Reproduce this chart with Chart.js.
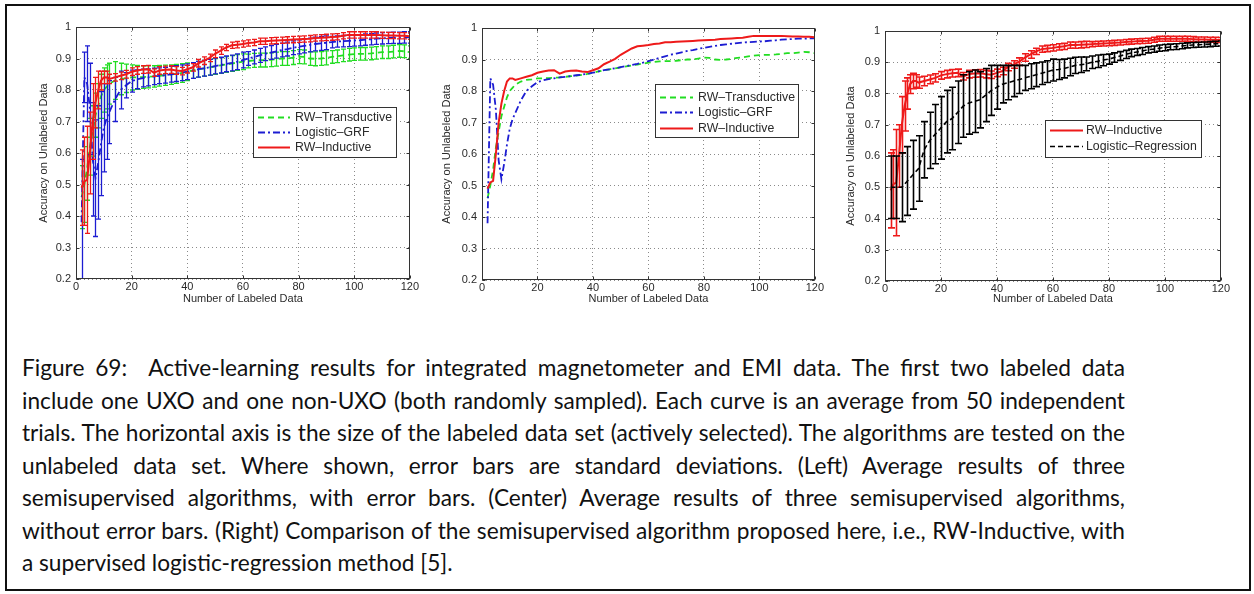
<!DOCTYPE html>
<html><head><meta charset="utf-8">
<script src="https://cdn.jsdelivr.net/npm/chart.js@4.4.1/dist/chart.umd.min.js"></script>
<style>
html,body{margin:0;padding:0;background:#fff;}
body{width:1254px;height:594px;position:relative;overflow:hidden;}
#frame{position:absolute;left:5px;top:4px;width:1246px;height:587px;border:2px solid #111;box-sizing:border-box;}
canvas{position:absolute;}
.cap{position:absolute;left:22px;width:1103px;font-family:Lato,"Open Sans",sans-serif;color:#111;line-height:1;text-align:justify;text-align-last:justify;}
.cap.last{text-align-last:left;}
</style></head>
<body>
<div id="frame"></div>
<canvas id="cL"></canvas>
<canvas id="cC"></canvas>
<canvas id="cR"></canvas>
<div id="caption"></div>
<script>
// ---------------- data ----------------
const X = [2,3,4,5,6,7,8,9,10,11,12,14,16,18,20,22,24,26,28,30,32,34,36,38,40,42,44,46,48,50,52,54,56,58,60,62,64,66,68,70,72,74,76,78,80,82,84,86,88,90,92,94,96,98,100,102,104,106,108,110,112,114,116,118,120];
const X_LR = [2,4,6,8,10,12,14,16,18,20,22,24,26,28,30,32,34,36,38,40,42,44,46,48,50,52,54,56,58,60,62,64,66,68,70,72,74,76,78,80,82,84,86,88,90,92,94,96,98,100,102,104,106,108,110,112,114,116,118,120];

const rwInductive = [
.49,.51,.515,.60,.70,.76,.80,.83,.84,.84,.835,
.84,.845,.85,.858,.862,.865,.866,.855,.862,.864,
.865,.862,.86,.866,.872,.885,.893,.902,.915,.925,
.935,.942,.944,.946,.949,.951,.955,.955,.956,.957,
.958,.959,.96,.961,.962,.963,.965,.966,.967,.968,
.969,.972,.975,.975,.975,.975,.975,.975,.974,.973,
.973,.972,.972,.971];
const rwTransductive = [
.46,.50,.55,.62,.67,.72,.75,.78,.80,.81,.82,
.83,.835,.837,.84,.84,.841,.842,.843,.845,.847,
.849,.851,.854,.858,.862,.866,.869,.872,.875,.878,
.881,.884,.887,.89,.892,.894,.895,.895,.896,.898,
.90,.90,.903,.906,.905,.90,.899,.90,.902,.905,
.907,.91,.912,.914,.915,.915,.916,.918,.92,.92,
.922,.924,.923,.92];
const logisticGRF = [
.38,.84,.82,.74,.58,.52,.57,.63,.68,.71,.73,
.77,.80,.815,.828,.834,.838,.84,.843,.845,.847,
.85,.852,.855,.858,.862,.866,.869,.872,.876,.879,
.883,.886,.89,.895,.90,.905,.91,.915,.919,.923,
.927,.93,.934,.937,.94,.943,.946,.948,.95,.952,
.954,.955,.956,.957,.958,.96,.961,.963,.964,.965,
.966,.966,.967,.967];
const rwTransductiveStd = [
.10,.12,.10,.09,.08,.07,.07,.07,.07,.07,.065,
.06,.05,.045,.04,.038,.036,.035,.034,.033,.032,
.031,.03,.03,.028,.025,.025,.025,.025,.025,.025,
.025,.025,.025,.025,.022,.022,.022,.022,.022,.022,
.022,.022,.022,.022,.022,.022,.022,.022,.022,.02,
.02,.02,.02,.02,.02,.02,.02,.02,.02,.02,
.02,.02,.02,.02];
const logisticGRFStd = [
.20,.08,.12,.145,.18,.185,.18,.165,.14,.13,.10,
.07,.06,.04,.035,.03,.028,.027,.026,.025,.025,
.025,.025,.025,.025,.025,.025,.025,.025,.025,.025,
.025,.025,.025,.025,.022,.022,.022,.022,.022,.022,
.022,.022,.022,.022,.022,.022,.022,.022,.022,.018,
.018,.018,.018,.018,.018,.018,.018,.018,.018,.018,
.018,.018,.018,.018];
const rwInductiveStdL = [
.12,.14,.17,.13,.12,.08,.06,.03,.02,.02,.015,
.012,.012,.012,.012,.012,.012,.012,.012,.012,.012,
.012,.012,.012,.012,.012,.012,.012,.012,.012,.012,
.01,.01,.01,.01,.01,.01,.01,.01,.01,.01,
.01,.01,.01,.01,.01,.01,.01,.01,.01,.01,
.01,.01,.01,.01,.01,.01,.01,.01,.01,.01,
.01,.01,.01,.01];
const rwInductiveStdR = [
.12,.11,.17,.10,.09,.08,.05,.03,.025,.02,.018,
.015,.014,.013,.012,.012,.012,.012,.012,.012,.012,
.012,.012,.012,.012,.012,.012,.012,.012,.012,.012,
.01,.01,.01,.01,.01,.01,.01,.01,.01,.01,
.008,.008,.008,.008,.008,.008,.008,.008,.008,.008,
.008,.008,.008,.008,.008,.008,.008,.008,.008,.008,
.008,.008,.008,.008];
const logisticRegression = [
.50,.50,.50,.52,.54,.56,.62,.65,.67,.69,
.71,.72,.74,.76,.77,.775,.78,.795,.81,.82,
.83,.835,.84,.845,.85,.855,.86,.865,.87,.875,
.877,.88,.885,.89,.892,.895,.90,.903,.907,.91,
.915,.92,.925,.93,.933,.936,.94,.942,.945,.947,
.949,.95,.952,.954,.955,.956,.957,.958,.959,.96];
const logisticRegressionStd = [
.10,.10,.11,.11,.11,.105,.09,.09,.095,.10,
.10,.10,.10,.10,.10,.10,.09,.085,.08,.07,
.06,.055,.05,.045,.04,.04,.038,.036,.035,.035,
.032,.03,.028,.026,.025,.022,.02,.02,.018,.016,
.015,.014,.013,.012,.011,.011,.01,.01,.01,.01,
.009,.009,.009,.008,.008,.008,.008,.008,.008,.008];

const X_TICK_LABELS = ['0','20','40','60','80','100','120'];
const Y_TICK_LABELS = ['0.2','0.3','0.4','0.5','0.6','0.7','0.8','0.9','1'];
const X_TITLE = 'Number of Labeled Data';
const Y_TITLE = 'Accuracy on Unlabeled Data';
const CAPTION = [
'Figure 69:\u00a0 Active-learning results for integrated magnetometer and EMI data. The first two labeled data',
'include one UXO and one non-UXO (both randomly sampled). Each curve is an average from 50 independent',
'trials. The horizontal axis is the size of the labeled data set (actively selected). The algorithms are tested on the',
'unlabeled data set. Where shown, error bars are standard deviations. (Left) Average results of three',
'semisupervised algorithms, with error bars. (Center) Average results of three semisupervised algorithms,',
'without error bars. (Right) Comparison of the semisupervised algorithm proposed here, i.e., RW-Inductive, with',
'a supervised logistic-regression method [5].'
];

// ---------------- styles ----------------
const GREEN = '#22dd22', BLUE = '#1c1cd2', RED = '#ee1a1a', BLACK = '#000000';
const TXT = '#2a2a2a';
const FONT = {family:'"Liberation Sans", Arial, sans-serif', size:11};

function pts(xs, ys){ return xs.map((x,i)=>({x:x, y:ys[i]})); }
function ds(label, xs, ys, color, dash, width, order, std){
  return {label, data:pts(xs,ys), borderColor:color, backgroundColor:color, borderDash:dash,
    borderWidth:width, pointRadius:0, tension:0, fill:false, order, std, clip:true};
}

const mlab = {
  id:'mlab',
  afterDatasetDraw(chart, args){
    const d = chart.data.datasets[args.index];
    if(!d.std) return;
    const ctx = chart.ctx, ys = chart.scales.y, a = chart.chartArea;
    const meta = chart.getDatasetMeta(args.index);
    const o = chart.options.plugins.mlab;
    ctx.save();
    ctx.beginPath(); ctx.rect(a.left, a.top, a.right-a.left, a.bottom-a.top); ctx.clip();
    ctx.strokeStyle = d.borderColor; ctx.lineWidth = o.barWidth; ctx.setLineDash([]);
    const cap = o.cap;
    d.data.forEach((p,i)=>{
      const px = Math.round(meta.data[i].x)+0.5;
      const y1 = ys.getPixelForValue(p.y + d.std[i]);
      const y2 = ys.getPixelForValue(p.y - d.std[i]);
      ctx.beginPath();
      ctx.moveTo(px,y1); ctx.lineTo(px,y2);
      ctx.moveTo(px-cap,y1); ctx.lineTo(px+cap,y1);
      ctx.moveTo(px-cap,y2); ctx.lineTo(px+cap,y2);
      ctx.stroke();
    });
    ctx.restore();
  },
  afterDatasetsDraw(chart){
    const ctx = chart.ctx, a = chart.chartArea, xs = chart.scales.x, ys = chart.scales.y;
    ctx.save();
    ctx.strokeStyle = '#333'; ctx.lineWidth = 1; ctx.setLineDash([]);
    const L = Math.round(a.left)+0.5, R = Math.round(a.right)-0.5, T = Math.round(a.top)+0.5, B = Math.round(a.bottom)-0.5;
    ctx.strokeRect(L, T, R-L, B-T);
    ctx.beginPath();
    xs.ticks.forEach(t=>{ const px = Math.round(xs.getPixelForValue(t.value))+0.5;
      ctx.moveTo(px,B); ctx.lineTo(px,B-3); ctx.moveTo(px,T); ctx.lineTo(px,T+3); });
    ys.ticks.forEach(t=>{ const py = Math.round(ys.getPixelForValue(t.value))+0.5;
      ctx.moveTo(L,py); ctx.lineTo(L+3,py); ctx.moveTo(R,py); ctx.lineTo(R-3,py); });
    ctx.stroke();
    ctx.restore();
  },
  afterDraw(chart){
    const o = chart.options.plugins.mlab, lg = o.legend, box = o.box, ctx = chart.ctx;
    const bx = lg.x0 - box.x, by = lg.y0 - box.y;
    ctx.save();
    ctx.fillStyle = '#fff'; ctx.fillRect(bx, by, lg.x1-lg.x0, lg.y1-lg.y0);
    ctx.strokeStyle = '#333'; ctx.lineWidth = 1; ctx.setLineDash([]);
    ctx.strokeRect(Math.round(bx)+0.5, Math.round(by)+0.5, lg.x1-lg.x0, lg.y1-lg.y0);
    ctx.font = '12.3px "Liberation Sans", Arial, sans-serif';
    ctx.textBaseline = 'middle'; ctx.fillStyle = TXT;
    chart.data.datasets.forEach((d,i)=>{
      const ry = lg.rows[i] - box.y + 0.5;
      ctx.strokeStyle = d.borderColor; ctx.lineWidth = d.borderWidth; ctx.setLineDash(d.borderDash||[]);
      ctx.beginPath(); ctx.moveTo(lg.lx0-box.x, ry); ctx.lineTo(lg.lx1-box.x, ry); ctx.stroke();
      ctx.fillText(d.label, lg.tx-box.x, ry+0.5);
    });
    ctx.restore();
  }
};

function makeChart(id, box, plot, datasets, legend, yTitlePad, cap, barWidth){
  const cv = document.getElementById(id);
  cv.width = box.w; cv.height = box.h;
  cv.style.left = box.x+'px'; cv.style.top = box.y+'px';
  const yW = plot.l - box.x, xH = box.y + box.h - plot.b;
  return new Chart(cv, {
    type:'line',
    data:{datasets},
    options:{
      responsive:false, animation:false, devicePixelRatio:1,
      layout:{padding:{left:0, top:plot.t-box.y, right:box.x+box.w-plot.r, bottom:0}},
      plugins:{legend:{display:false}, tooltip:{enabled:false}, mlab:{legend, box, cap, barWidth}},
      scales:{
        x:{type:'linear', min:0, max:120,
          ticks:{stepSize:20, callback:(v,i)=>X_TICK_LABELS[i], font:FONT, color:TXT, padding:1, maxRotation:0, autoSkip:false},
          grid:{color:'#8a8a8a', drawTicks:false, lineWidth:1},
          border:{display:false, dash:[1,3]},
          title:{display:true, text:X_TITLE, font:FONT, color:TXT, padding:{top:0,bottom:4}},
          afterFit:s=>{s.height = xH;}},
        y:{type:'linear', min:0.2, max:1,
          ticks:{stepSize:0.1, callback:(v,i)=>Y_TICK_LABELS[i], font:FONT, color:TXT, padding:5, autoSkip:false},
          grid:{color:'#8a8a8a', drawTicks:false, lineWidth:1},
          border:{display:false, dash:[1,3]},
          title:{display:true, text:Y_TITLE, font:FONT, color:TXT, padding:{top:yTitlePad,bottom:0}},
          afterFit:s=>{s.width = yW;}}
      }
    },
    plugins:[mlab]
  });
}

// Left chart
makeChart('cL', {x:18,y:6,w:402,h:304}, {l:76,r:411,t:27,b:279}, [
  ds('RW\u2013Transductive', X, rwTransductive, GREEN, [6,4], 1.8, 2, rwTransductiveStd),
  ds('Logistic\u2013GRF', X, logisticGRF, BLUE, [7,3,2,3], 1.8, 1, logisticGRFStd),
  ds('RW\u2013Inductive', X, rwInductive, RED, [], 2, 0, rwInductiveStdL)
], {x0:253,x1:396,y0:107,y1:157,lx0:258,lx1:290,tx:295,rows:[117,132,147]}, 19, 2.5, 1.3);

// Center chart
makeChart('cC', {x:420,y:6,w:405,h:304}, {l:482,r:817,t:28,b:280}, [
  ds('RW\u2013Transductive', X, rwTransductive, GREEN, [6,4], 1.8, 2, null),
  ds('Logistic\u2013GRF', X, logisticGRF, BLUE, [7,3,2,3], 1.8, 1, null),
  ds('RW\u2013Inductive', X, rwInductive, RED, [], 2, 0, null)
], {x0:655,x1:798,y0:84,y1:137,lx0:660,lx1:693,tx:698,rows:[97,112,128]}, 20, 2.5, 1);

// Right chart
makeChart('cR', {x:830,y:6,w:401,h:304}, {l:885,r:1221,t:31,b:281}, [
  ds('RW\u2013Inductive', X, rwInductive, RED, [], 2, 1, rwInductiveStdR),
  ds('Logistic\u2013Regression', X_LR, logisticRegression, BLACK, [5,3], 1.6, 0, logisticRegressionStd)
], {x0:1045,x1:1201,y0:120,y1:157,lx0:1050,lx1:1083,tx:1086,rows:[130,146]}, 14, 3.5, 1.6);

// Caption
(function(){
  const c = document.createElement('canvas').getContext('2d');
  const fam = 'Lato, "Open Sans", sans-serif';
  const w = (t,s)=>{ c.font = s+'px '+fam; return c.measureText(t).width; };
  let s = 20 * 1096 / w(CAPTION[5], 20);
  for(let i=0;i<6;i++){ const nw = w(CAPTION[i], s); if(nw > 1100) s *= 1100/nw; }
  const host = document.getElementById('caption');
  CAPTION.forEach((t,i)=>{
    const d = document.createElement('div');
    d.className = 'cap' + (i===CAPTION.length-1 ? ' last' : '');
    d.style.fontSize = s+'px';
    const center = 371.7 + 32.5*i;
    d.style.top = (center - 0.634*s)+'px';
    d.textContent = t;
    host.appendChild(d);
  });
})();
</script>
</body></html>
